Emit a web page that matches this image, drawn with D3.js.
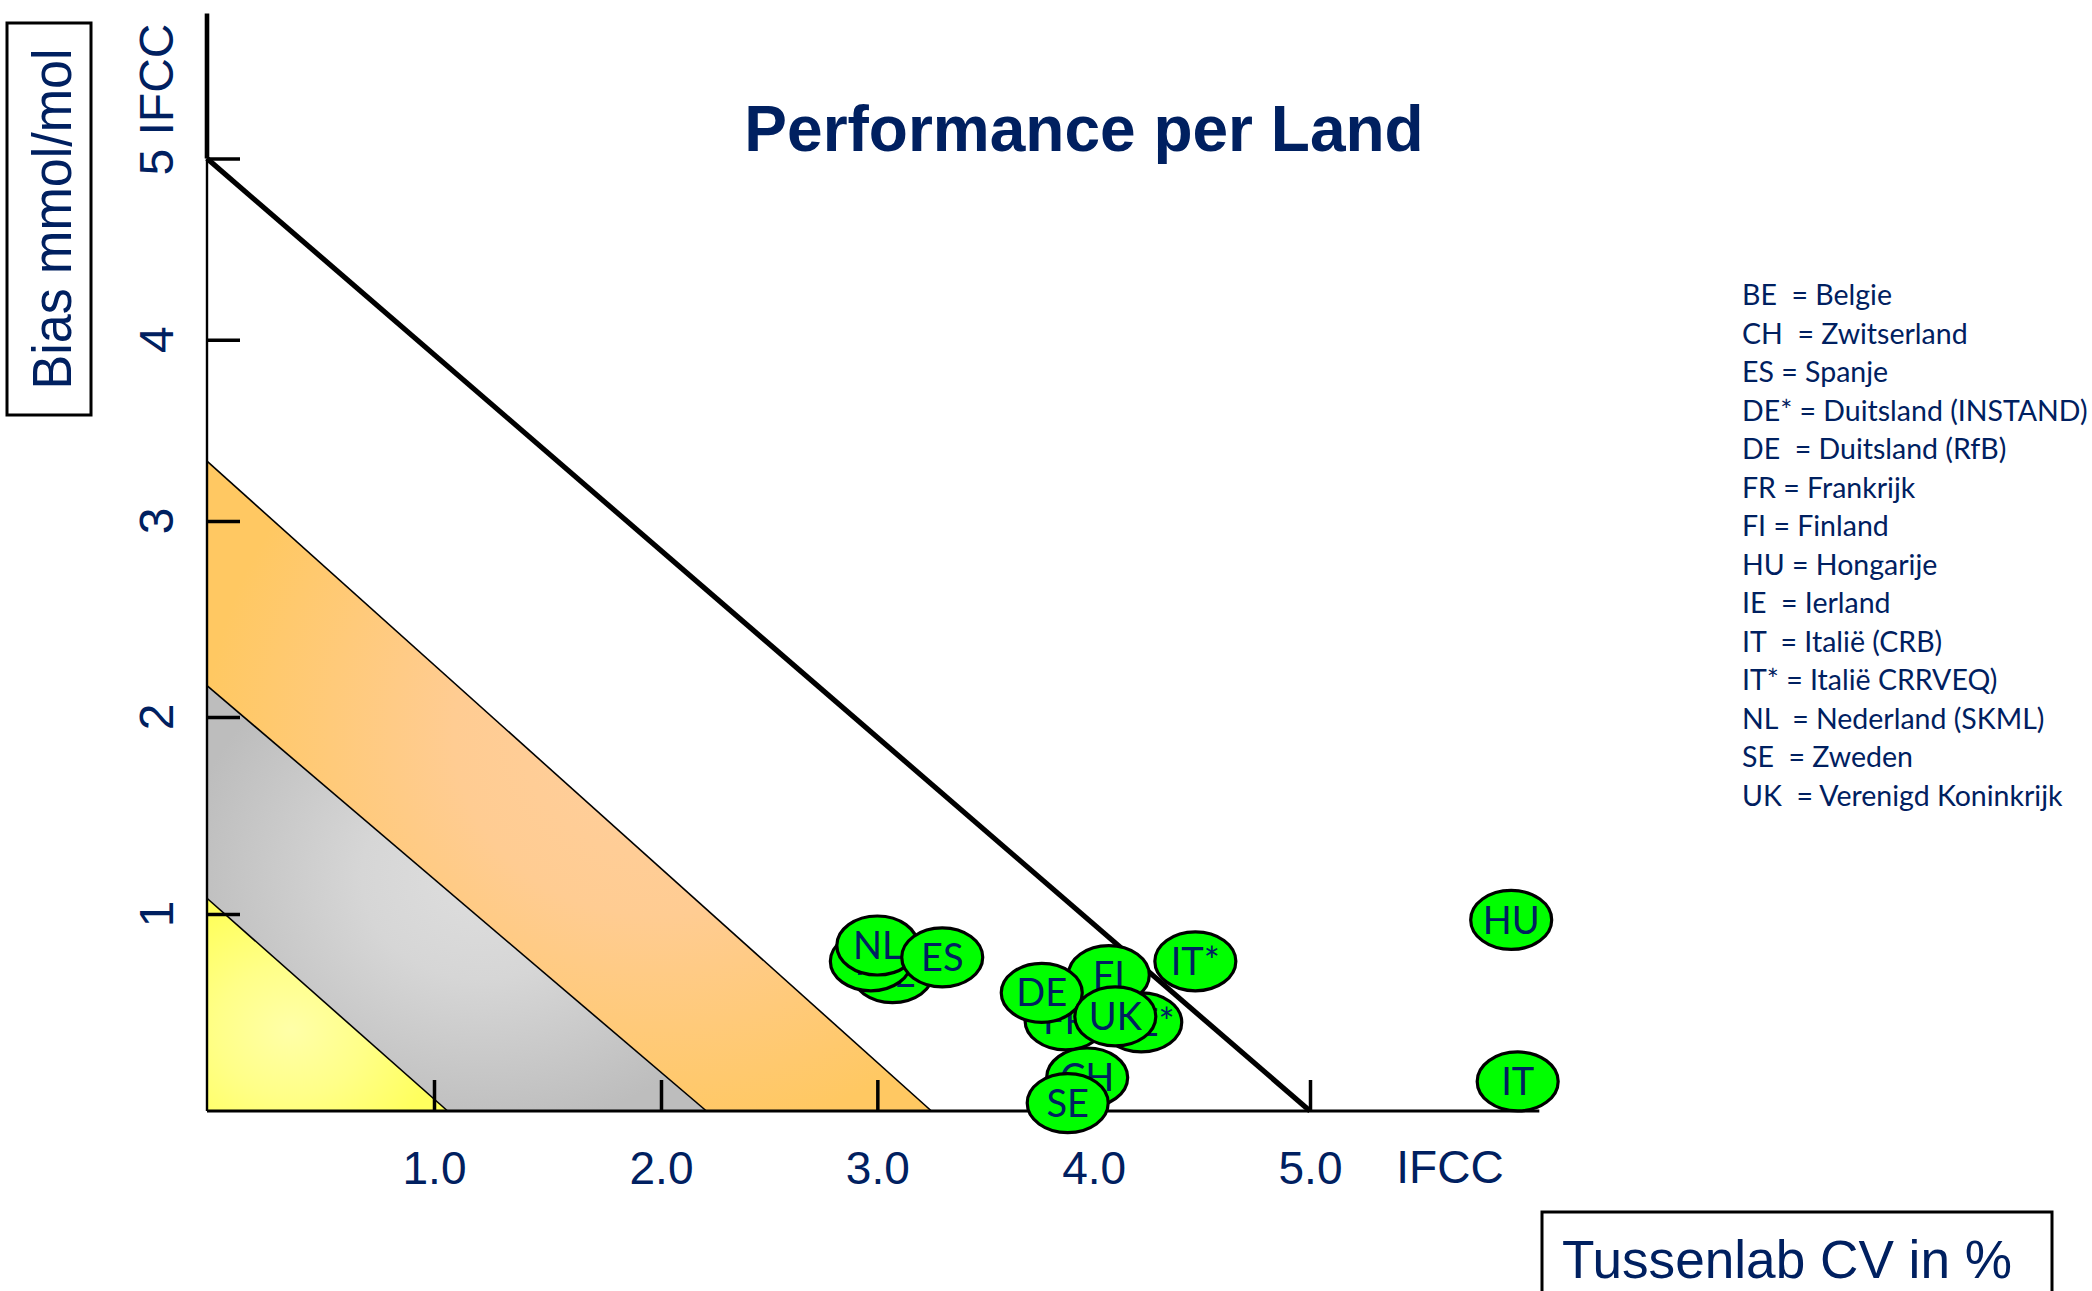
<!DOCTYPE html>
<html>
<head>
<meta charset="utf-8">
<script src="https://cdn.jsdelivr.net/npm/d3@7"></script>
<style>
  html, body { margin: 0; padding: 0; background: #fff; }
  svg { display: block; }
</style>
</head>
<body>
<svg id="chart" width="2092" height="1291"></svg>
<script>
// ---------- DATA ----------
const countries  = ["BE", "IE", "NL", "ES", "FR", "DE*", "FI", "DE", "CH", "SE", "UK", "IT*", "HU", "IT"];
const cvValues   = [3.07, 2.97, 3.00, 3.30, 3.87, 4.22, 4.07, 3.76, 3.97, 3.88, 4.10, 4.47, 5.93, 5.96];
const biasValues = [0.70, 0.76, 0.84, 0.78, 0.46, 0.45, 0.69, 0.60, 0.17, 0.04, 0.48, 0.76, 0.97, 0.15];

const xTickValues = [1, 2, 3, 4, 5];
const xTickLabels = ["1.0", "2.0", "3.0", "4.0", "5.0"];
const yTickValues = [1, 2, 3, 4, 5];
const yTickLabels = ["1", "2", "3", "4", "5 IFCC"];

// performance zones: intercepts on the CV axis and on the bias axis
const zoneNames  = ["orange", "gray", "yellow"];
const zoneCvInt  = [3.25, 2.21, 1.06];
const zoneBiasInt= [3.33, 2.16, 1.08];
const limitCvInt = 5, limitBiasInt = 5;

const legendLines = [
  "BE  = Belgie", "CH  = Zwitserland", "ES = Spanje", "DE* = Duitsland (INSTAND)",
  "DE  = Duitsland (RfB)", "FR = Frankrijk", "FI = Finland", "HU = Hongarije",
  "IE  = Ierland", "IT  = Italië (CRB)", "IT* = Italië CRRVEQ)", "NL  = Nederland (SKML)",
  "SE  = Zweden", "UK  = Verenigd Koninkrijk"
];

const xMax = 6.06, yMax = 5.8;

// ---------- SCALES ----------
const x = d3.scaleLinear().domain([0, 2, 5]).range([207, 661, 1310]);
const y = d3.scaleLinear().domain([0, 2, 3, 5]).range([1111, 717, 521, 158.5]);

const navy = "#002060";
const svg = d3.select("#chart");
const defs = svg.append("defs");

function radial(id, cx, cy, r, stops) {
  const g = defs.append("radialGradient").attr("id", id)
    .attr("cx", cx).attr("cy", cy).attr("r", r);
  stops.forEach(s => g.append("stop").attr("offset", s[0]).attr("stop-color", s[1]));
}
radial("g-orange", 0.62, 0.42, 0.62, [[0, "#ffcf9e"], [0.45, "#ffcc92"], [1, "#ffc862"]]);
radial("g-gray",   0.55, 0.45, 0.6,  [[0, "#dedede"], [0.4, "#d6d6d6"], [1, "#bdbdbd"]]);
radial("g-yellow", 0.35, 0.62, 0.62, [[0, "#ffffa8"], [0.5, "#ffff88"], [1, "#ffff5e"]]);

// ---------- ZONES ----------
const zones = zoneNames.map((n, i) => ({ name: n, cv: zoneCvInt[i], bias: zoneBiasInt[i] }));
svg.append("g").selectAll("path").data(zones).join("path")
  .attr("d", d => `M${x(0)},${y(0)}L${x(d.cv)},${y(0)}L${x(0)},${y(d.bias)}Z`)
  .attr("fill", d => `url(#g-${d.name})`)
  .attr("stroke", "none");
svg.append("g").selectAll("line").data(zones).join("line")
  .attr("x1", x(0)).attr("y1", d => y(d.bias))
  .attr("x2", d => x(d.cv)).attr("y2", y(0))
  .attr("stroke", "#000").attr("stroke-width", 1.6);

// ---------- AXES ----------
const xAxis = d3.axisBottom(x).tickValues(xTickValues).tickFormat((d, i) => xTickLabels[i])
  .tickSizeInner(-31).tickSizeOuter(0).tickPadding(40);
const gx = svg.append("g").attr("transform", `translate(0,${y(0)})`).call(xAxis);
gx.select(".domain").remove();
gx.selectAll(".tick line").attr("stroke", "#000").attr("stroke-width", 3.5);
gx.selectAll(".tick text").attr("fill", navy)
  .attr("font-family", "'Liberation Sans', Arial, sans-serif").attr("font-size", 46);
svg.append("line").attr("x1", x(0)).attr("x2", x(xMax)).attr("y1", y(0)).attr("y2", y(0))
  .attr("stroke", "#000").attr("stroke-width", 2.8);
svg.append("text").attr("x", x(5) + 140).attr("y", y(0) + 72)
  .attr("text-anchor", "middle").attr("fill", navy)
  .attr("font-family", "'Liberation Sans', Arial, sans-serif").attr("font-size", 46)
  .text("IFCC");

const yAxis = d3.axisLeft(y).tickValues(yTickValues).tickFormat("")
  .tickSizeInner(-33).tickSizeOuter(0);
const gy = svg.append("g").attr("transform", `translate(${x(0)},0)`).call(yAxis);
gy.select(".domain").remove();
gy.selectAll(".tick line").attr("stroke", "#000").attr("stroke-width", 3.5);
svg.append("line").attr("x1", x(0)).attr("x2", x(0)).attr("y1", y(0)).attr("y2", y(5))
  .attr("stroke", "#000").attr("stroke-width", 2.4);
svg.append("line").attr("x1", x(0)).attr("x2", x(0)).attr("y1", y(5)).attr("y2", y(yMax))
  .attr("stroke", "#000").attr("stroke-width", 4.6);

svg.append("g").selectAll("text").data(yTickValues).join("text")
  .attr("transform", (d, i) => `translate(173,${y(d) + (i === yTickValues.length - 1 ? 17 : 0)}) rotate(-90)`)
  .attr("text-anchor", (d, i) => i === yTickValues.length - 1 ? "start" : "middle")
  .attr("fill", navy)
  .attr("font-family", "'Liberation Sans', Arial, sans-serif").attr("font-size", 48)
  .text((d, i) => yTickLabels[i]);

// ---------- LIMIT LINE ----------
svg.append("line")
  .attr("x1", x(0)).attr("y1", y(limitBiasInt))
  .attr("x2", x(limitCvInt)).attr("y2", y(0))
  .attr("stroke", "#000").attr("stroke-width", 5.2);

// ---------- POINTS ----------
const pts = countries.map((c, i) => ({ c, cv: cvValues[i], bias: biasValues[i] }));
const pg = svg.append("g").selectAll("g").data(pts).join("g")
  .attr("transform", d => `translate(${x(d.cv)},${y(d.bias)})`);
pg.append("ellipse").attr("rx", 40.5).attr("ry", 29.5)
  .attr("fill", "#00ff00").attr("stroke", "#000").attr("stroke-width", 3.2);
pg.append("text").attr("text-anchor", "middle").attr("dy", "0.36em")
  .attr("fill", navy).attr("font-family", "Lato, 'Open Sans', sans-serif").attr("font-size", 38)
  .text(d => d.c);

// ---------- TITLE ----------
svg.append("text").attr("x", 1084).attr("y", 151).attr("text-anchor", "middle")
  .attr("fill", navy).attr("font-family", "'Liberation Sans', Arial, sans-serif")
  .attr("font-weight", "bold").attr("font-size", 64)
  .text("Performance per Land");

// ---------- LEGEND ----------
svg.append("g").selectAll("text").data(legendLines).join("text")
  .attr("x", 1742).attr("y", (d, i) => 305 + i * 38.5)
  .attr("fill", navy).attr("font-family", "Lato, 'Open Sans', sans-serif").attr("font-size", 28.5)
  .style("white-space", "pre")
  .text(d => d);

// ---------- AXIS TITLE BOXES ----------
svg.append("rect").attr("x", 7).attr("y", 23).attr("width", 84).attr("height", 392)
  .attr("fill", "none").attr("stroke", "#000").attr("stroke-width", 3);
svg.append("text").attr("transform", "translate(71,219) rotate(-90)")
  .attr("text-anchor", "middle").attr("fill", navy)
  .attr("font-family", "'Liberation Sans', Arial, sans-serif").attr("font-size", 55)
  .attr("textLength", 341).attr("lengthAdjust", "spacingAndGlyphs")
  .text("Bias mmol/mol");

svg.append("rect").attr("x", 1542).attr("y", 1212).attr("width", 510).attr("height", 110)
  .attr("fill", "none").attr("stroke", "#000").attr("stroke-width", 3);
svg.append("text").attr("x", 1562).attr("y", 1278)
  .attr("fill", navy)
  .attr("font-family", "'Liberation Sans', Arial, sans-serif").attr("font-size", 54)
  .attr("textLength", 450).attr("lengthAdjust", "spacingAndGlyphs")
  .text("Tussenlab CV in %");
</script>
</body>
</html>
